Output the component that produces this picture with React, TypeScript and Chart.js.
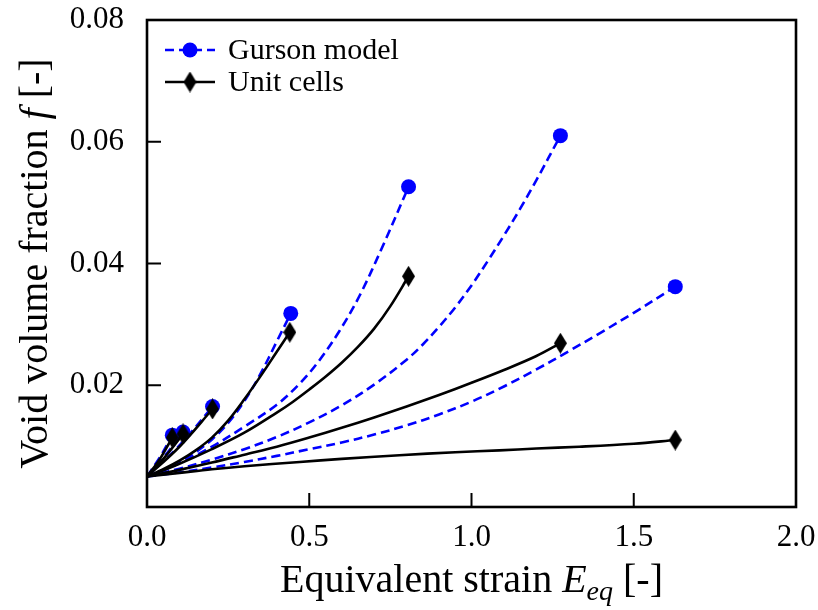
import { useEffect, useRef } from 'react';
import { Chart, registerables } from 'chart.js';

Chart.register(...registerables);

// Tick values
const xTickValues = [0, 0.5, 1.0, 1.5, 2.0];
const yTickValues = [0.02, 0.04, 0.06, 0.08];

// Gurson model curves (equivalent strain, void volume fraction)
const gurson1Strain = [0, 0.04, 0.078];
const gurson1F = [0.005, 0.0082, 0.0118];
const gurson2Strain = [0, 0.055, 0.111];
const gurson2F = [0.005, 0.0084, 0.0123];
const gurson3Strain = [0, 0.1, 0.202];
const gurson3F = [0.005, 0.0101, 0.0165];
const gurson4Strain = [0, 0.05, 0.1, 0.15, 0.2, 0.25, 0.3, 0.35, 0.4, 0.443];
const gurson4F = [0.005, 0.006, 0.0073, 0.009, 0.0111, 0.0138, 0.0174, 0.0219, 0.0272, 0.0318];
const gurson5Strain = [0, 0.1, 0.2, 0.3, 0.4, 0.471, 0.53, 0.594, 0.655, 0.726, 0.806];
const gurson5F = [0.005, 0.0072, 0.0099, 0.0132, 0.0168, 0.0203, 0.024, 0.029, 0.0347, 0.0428, 0.0526];
const gurson6Strain = [0, 0.1, 0.2, 0.3, 0.4, 0.5, 0.6, 0.7, 0.8, 0.85, 0.9, 0.95, 1.0, 1.05, 1.1, 1.15, 1.2, 1.274];
const gurson6F = [0.005, 0.0063, 0.0078, 0.0095, 0.0115, 0.0139, 0.0167, 0.0201, 0.0242, 0.0267, 0.0296, 0.0328, 0.0364, 0.0404, 0.0446, 0.049, 0.0537, 0.061];
const gurson7Strain = [0, 0.1, 0.2, 0.3, 0.4, 0.5, 0.6, 0.7, 0.8, 0.9, 1.0, 1.1, 1.2, 1.3, 1.4, 1.5, 1.628];
const gurson7F = [0.005, 0.0057, 0.0065, 0.0074, 0.0084, 0.0095, 0.0106, 0.0119, 0.0134, 0.0152, 0.0173, 0.0198, 0.0226, 0.0256, 0.0287, 0.0319, 0.0362];

// Unit cell curves
const cell1Strain = [0, 0.04, 0.078];
const cell1F = [0.005, 0.0079, 0.0114];
const cell2Strain = [0, 0.055, 0.111];
const cell2F = [0.005, 0.0082, 0.012];
const cell3Strain = [0, 0.1, 0.202];
const cell3F = [0.005, 0.0099, 0.0161];
const cell4Strain = [0, 0.05, 0.1, 0.15, 0.2, 0.25, 0.3, 0.35, 0.4, 0.44];
const cell4F = [0.005, 0.0062, 0.0076, 0.0093, 0.0114, 0.0142, 0.0177, 0.0215, 0.0255, 0.0287];
const cell5Strain = [0, 0.1, 0.2, 0.3, 0.4, 0.45, 0.5, 0.55, 0.6, 0.65, 0.7, 0.75, 0.806];
const cell5F = [0.005, 0.0071, 0.0095, 0.0122, 0.0155, 0.0173, 0.0193, 0.0214, 0.0237, 0.0263, 0.0293, 0.033, 0.0379];
const cell6Strain = [0, 0.1, 0.2, 0.3, 0.4, 0.5, 0.6, 0.7, 0.8, 0.9, 1.0, 1.1, 1.2, 1.274];
const cell6F = [0.005, 0.0061, 0.0073, 0.0086, 0.0099, 0.0114, 0.013, 0.0147, 0.0165, 0.0184, 0.0204, 0.0225, 0.0248, 0.0269];
const cell7Strain = [0, 0.1, 0.2, 0.3, 0.471, 0.6, 0.778, 0.95, 1.086, 1.2, 1.332, 1.5, 1.628];
const cell7F = [0.005, 0.0056, 0.0062, 0.0067, 0.0074, 0.0079, 0.0085, 0.009, 0.0093, 0.0096, 0.0099, 0.0104, 0.011];

const gursonSeries = [
  [gurson1Strain, gurson1F],
  [gurson2Strain, gurson2F],
  [gurson3Strain, gurson3F],
  [gurson4Strain, gurson4F],
  [gurson5Strain, gurson5F],
  [gurson6Strain, gurson6F],
  [gurson7Strain, gurson7F],
];
const cellSeries = [
  [cell1Strain, cell1F],
  [cell2Strain, cell2F],
  [cell3Strain, cell3F],
  [cell4Strain, cell4F],
  [cell5Strain, cell5F],
  [cell6Strain, cell6F],
  [cell7Strain, cell7F],
];

const legendLabels = ['Gurson model', 'Unit cells'];
const xTitle = ['Equivalent strain ', 'E', 'eq', ' [-]'];
const yTitle = ['Void volume fraction ', 'f', ' [-]'];

const BLUE = '#0000ff';
const FONT = '"Liberation Serif", "Times New Roman", serif';

function makeDiamond(w: number, h: number) {
  const c = document.createElement('canvas');
  c.width = w;
  c.height = h;
  const g = c.getContext('2d')!;
  g.fillStyle = '#000';
  g.beginPath();
  g.moveTo(w / 2, 0);
  g.lineTo(w, h / 2);
  g.lineTo(w / 2, h);
  g.lineTo(0, h / 2);
  g.closePath();
  g.fill();
  return c;
}

export default function App() {
  const ref = useRef<HTMLCanvasElement | null>(null);

  useEffect(() => {
    document.body.style.margin = '0';
    const diamond = makeDiamond(13, 21);
    const lastOnly = (r: number) => (c: any) =>
      c.dataIndex === c.dataset.data.length - 1 ? r : 0;

    const datasets: any[] = [];
    gursonSeries.forEach(([xs, ys], i) => {
      datasets.push({
        label: 'Gurson ' + (i + 1),
        data: xs.map((x, k) => ({ x, y: ys[k] })),
        borderColor: BLUE,
        backgroundColor: BLUE,
        borderWidth: 2.6,
        borderDash: [9, 5],
        tension: 0.35,
        pointRadius: lastOnly(7.5),
        pointHoverRadius: 0,
        pointBorderWidth: 0,
        pointStyle: 'circle',
        order: 2,
      });
    });
    cellSeries.forEach(([xs, ys], i) => {
      datasets.push({
        label: 'Unit cell ' + (i + 1),
        data: xs.map((x, k) => ({ x, y: ys[k] })),
        borderColor: '#000',
        backgroundColor: '#000',
        borderWidth: 2.6,
        tension: 0.35,
        pointRadius: lastOnly(10),
        pointHoverRadius: 0,
        pointBorderWidth: 0,
        pointStyle: diamond,
        order: 1,
      });
    });

    const decor = {
      id: 'decor',
      afterDraw(chart: any) {
        const { ctx, chartArea: a, scales } = chart;
        const xs = scales.x;
        const ys = scales.y;
        ctx.save();
        // frame
        ctx.strokeStyle = '#000';
        ctx.lineWidth = 2.6;
        ctx.setLineDash([]);
        ctx.strokeRect(a.left, a.top, a.right - a.left, a.bottom - a.top);
        // inward ticks
        ctx.lineWidth = 2;
        ctx.beginPath();
        xTickValues.forEach((v) => {
          const px = xs.getPixelForValue(v);
          ctx.moveTo(px, a.bottom);
          ctx.lineTo(px, a.bottom - 14);
        });
        yTickValues.forEach((v) => {
          const py = ys.getPixelForValue(v);
          ctx.moveTo(a.left, py);
          ctx.lineTo(a.left + 14, py);
        });
        ctx.stroke();

        // legend
        const lx0 = a.left + 18;
        const lx1 = a.left + 68;
        const lmx = (lx0 + lx1) / 2;
        const rows = [a.top + 30, a.top + 62];
        ctx.lineWidth = 2.6;
        ctx.strokeStyle = BLUE;
        ctx.setLineDash([9, 5]);
        ctx.beginPath();
        ctx.moveTo(lx0, rows[0]);
        ctx.lineTo(lx1, rows[0]);
        ctx.stroke();
        ctx.setLineDash([]);
        ctx.fillStyle = BLUE;
        ctx.beginPath();
        ctx.arc(lmx, rows[0], 7.5, 0, Math.PI * 2);
        ctx.fill();
        ctx.strokeStyle = '#000';
        ctx.beginPath();
        ctx.moveTo(lx0, rows[1]);
        ctx.lineTo(lx1, rows[1]);
        ctx.stroke();
        ctx.drawImage(diamond, lmx - diamond.width / 2, rows[1] - diamond.height / 2);
        ctx.fillStyle = '#000';
        ctx.font = `30px ${FONT}`;
        ctx.textBaseline = 'middle';
        ctx.textAlign = 'left';
        ctx.fillText(legendLabels[0], lx1 + 13, rows[0] + 1);
        ctx.fillText(legendLabels[1], lx1 + 13, rows[1] + 1);

        // x title
        const tSize = 40;
        const fN = `${tSize}px ${FONT}`;
        const fI = `italic ${tSize}px ${FONT}`;
        const fS = `italic ${Math.round(tSize * 0.7)}px ${FONT}`;
        ctx.textBaseline = 'alphabetic';
        const parts = [
          { t: xTitle[0], f: fN, dy: 0 },
          { t: xTitle[1], f: fI, dy: 0 },
          { t: xTitle[2], f: fS, dy: 8 },
          { t: xTitle[3], f: fN, dy: 0 },
        ];
        let total = 0;
        parts.forEach((p) => {
          ctx.font = p.f;
          total += ctx.measureText(p.t).width;
        });
        let cx = (a.left + a.right) / 2 - total / 2;
        const by = 592;
        parts.forEach((p) => {
          ctx.font = p.f;
          ctx.fillText(p.t, cx, by + p.dy);
          cx += ctx.measureText(p.t).width;
        });

        // y title (rotated)
        const yparts = [
          { t: yTitle[0], f: fN },
          { t: yTitle[1], f: fI },
          { t: yTitle[2], f: fN },
        ];
        let ytotal = 0;
        yparts.forEach((p) => {
          ctx.font = p.f;
          ytotal += ctx.measureText(p.t).width;
        });
        ctx.translate(47, (a.top + a.bottom) / 2);
        ctx.rotate(-Math.PI / 2);
        let cy = -ytotal / 2;
        yparts.forEach((p) => {
          ctx.font = p.f;
          ctx.fillText(p.t, cy, 0);
          cy += ctx.measureText(p.t).width;
        });
        ctx.restore();
      },
    };

    const noPad = (s: any) => {
      s.paddingLeft = 0;
      s.paddingRight = 0;
      s.paddingTop = 0;
      s.paddingBottom = 0;
    };

    const chart = new Chart(ref.current!, {
      type: 'line',
      data: { datasets },
      options: {
        animation: false,
        responsive: false,
        maintainAspectRatio: false,
        events: [],
        layout: { padding: { top: 20, right: 22, left: 0, bottom: 0 } },
        plugins: {
          legend: { display: false },
          tooltip: { enabled: false },
          title: { display: false },
        },
        scales: {
          x: {
            type: 'linear',
            min: 0,
            max: 2,
            afterFit: (s: any) => {
              s.height = 103;
              noPad(s);
            },
            afterBuildTicks: (s: any) => {
              s.ticks = xTickValues.map((v) => ({ value: v }));
            },
            grid: { display: false, drawTicks: false },
            border: { display: false },
            ticks: {
              color: '#000',
              padding: 12,
              maxRotation: 0,
              font: { family: FONT, size: 31 },
              callback: (v: any) => Number(v).toFixed(1),
            },
          },
          y: {
            type: 'linear',
            min: 0,
            max: 0.08,
            afterFit: (s: any) => {
              s.width = 147;
              noPad(s);
            },
            afterBuildTicks: (s: any) => {
              s.ticks = yTickValues.map((v) => ({ value: v }));
            },
            grid: { display: false, drawTicks: false },
            border: { display: false },
            ticks: {
              color: '#000',
              padding: 23,
              font: { family: FONT, size: 31 },
              callback: (v: any) => Number(v).toFixed(2),
            },
          },
        },
      },
      plugins: [decor],
    });
    return () => chart.destroy();
  }, []);

  return (
    <div style={{ width: 818, height: 610 }}>
      <canvas ref={ref} width={818} height={610} style={{ display: 'block' }} />
    </div>
  );
}
